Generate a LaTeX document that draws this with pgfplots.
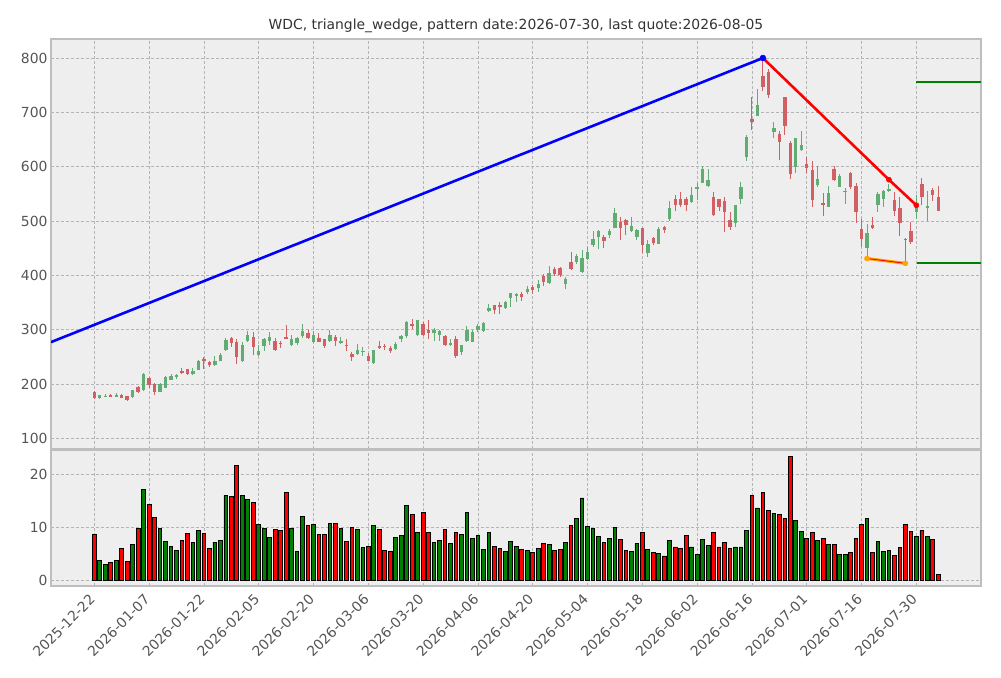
\documentclass[border=0pt]{standalone}
\usepackage{fontspec}
\setmainfont{DejaVu Sans}
\usepackage{pgfplots}
\usepackage{pgfplotstable}
\pgfplotsset{compat=1.18}
\definecolor{bgc}{RGB}{238,238,238}
\definecolor{framec}{RGB}{190,190,190}
\definecolor{gridc}{RGB}{180,180,180}
\definecolor{txtc}{RGB}{85,85,85}
\definecolor{cup}{RGB}{96,172,114}
\definecolor{cdn}{RGB}{208,96,100}
\definecolor{vup}{RGB}{0,128,0}
\definecolor{vdn}{RGB}{255,0,0}
\definecolor{orng}{RGB}{255,165,0}

\pgfplotstableread{
i o h l c v
0 186 187 172 175 8.7
1 174 180 173 179 3.8
2 177 181 176 178 3.0
3 179 181 176 177 3.4
4 176 183 176 180 3.8
5 180 182 174 175 6.0
6 177 178 169 171 3.6
7 176 189 175 188 6.8
8 194 196 184 185 9.8
9 188 221 187 219 17.3
10 211 213 193 199 14.4
11 200 201 180 185 11.9
12 186 201 185 200 9.8
13 193 214 192 212 7.4
14 208 218 207 214 6.4
15 212 218 210 216 5.7
16 224 230 219 220 7.6
17 228 228 216 218 8.9
18 218 230 217 224 7.2
19 226 245 225 242 9.5
20 246 249 228 242 8.9
21 241 243 231 234 6.0
22 234 251 233 242 7.2
23 243 257 242 254 7.6
24 262 284 260 281 16.1
25 285 286 268 276 15.9
26 278 283 237 249 21.8
27 242 277 240 272 16.1
28 279 298 277 291 15.4
29 286 295 254 268 14.8
30 254 271 252 260 10.6
31 269 284 260 282 9.8
32 279 295 272 286 8.1
33 280 284 261 262 9.7
34 276 280 267 273 9.5
35 286 308 282 283 16.7
36 272 290 270 283 9.8
37 275 286 272 284 5.5
38 288 310 285 298 12.1
39 294 299 283 285 10.4
40 277 298 276 290 10.6
41 285 294 277 278 8.7
42 282 283 267 270 8.7
43 279 299 278 291 10.8
44 286 290 270 280 10.8
45 275 286 273 280 9.8
46 272 283 260 271 7.4
47 256 259 243 249 10.0
48 256 273 254 263 9.7
49 259 268 252 261 6.2
50 252 257 242 243 6.4
51 238 262 237 262 10.4
52 270 280 264 266 9.7
53 270 274 262 269 5.7
54 266 269 257 260 5.5
55 264 277 263 274 8.1
56 282 290 277 288 8.5
57 288 316 285 314 14.2
58 311 320 302 306 12.5
59 291 318 289 317 9.1
60 311 314 289 291 12.9
61 300 317 282 294 9.1
62 294 303 279 300 7.2
63 291 300 279 297 7.6
64 288 291 270 272 9.7
65 273 282 269 275 7.0
66 282 288 248 251 9.1
67 259 272 253 271 8.7
68 279 306 278 299 12.9
69 277 299 277 296 7.9
70 299 311 296 306 8.5
71 298 314 296 312 5.8
72 335 348 332 340 9.1
73 345 346 328 337 6.4
74 346 351 328 342 6.0
75 339 352 338 351 5.5
76 358 368 341 367 7.4
77 362 367 351 365 6.4
78 365 369 352 361 5.8
79 370 381 365 374 5.7
80 378 382 365 373 5.3
81 376 391 370 384 6.0
82 399 402 381 388 7.0
83 385 417 384 404 6.8
84 412 415 399 402 5.7
85 413 415 396 401 5.9
86 384 396 375 393 7.2
87 424 442 410 411 10.4
88 425 439 421 435 11.7
89 406 447 404 431 15.6
90 430 453 428 443 10.2
91 455 481 453 466 9.8
92 470 484 449 482 8.3
93 471 475 451 463 7.2
94 475 485 469 481 7.9
95 488 524 487 515 10.0
96 498 508 465 487 7.7
97 502 504 474 492 5.7
98 482 508 479 490 5.5
99 470 486 465 483 7.0
100 487 487 441 456 9.1
101 441 465 434 457 5.9
102 469 471 455 460 5.3
103 457 489 457 486 5.1
104 489 490 478 484 4.6
105 503 536 500 524 7.6
106 540 547 519 530 6.3
107 541 554 526 529 6.1
108 541 545 518 529 8.4
109 535 563 533 547 6.3
110 559 570 539 563 4.8
111 570 602 569 595 7.8
112 565 595 563 576 6.5
113 545 554 510 511 9.1
114 540 540 519 526 6.3
115 536 545 480 516 7.2
116 502 516 483 489 6.1
117 496 530 489 529 6.3
118 540 572 532 563 6.3
119 618 659 611 654 9.5
120 688 729 667 682 16.0
121 694 743 693 713 13.7
122 766 796 739 746 16.7
123 774 779 727 732 13.3
124 664 683 653 671 12.7
125 661 666 613 645 12.4
126 729 729 659 675 11.8
127 643 648 578 586 23.5
128 599 653 589 652 11.4
129 631 666 629 639 9.3
130 604 617 589 597 8.0
131 594 610 525 538 9.0
132 566 601 563 578 7.6
133 533 551 510 531 8.0
134 526 564 525 551 6.8
135 596 602 573 576 6.8
136 562 586 562 583 4.8
137 553 560 532 556 4.8
138 588 590 558 562 5.3
139 564 570 497 516 8.0
140 486 504 452 466 10.6
141 451 494 431 477 11.7
142 492 507 485 487 5.3
143 529 553 516 550 7.4
144 541 557 526 556 5.5
145 555 569 553 559 5.7
146 538 553 510 519 4.7
147 523 544 472 497 6.2
148 467 468 422 465 10.6
149 481 499 457 462 9.3
150 516 547 503 532 8.3
151 568 579 529 544 9.5
152 525 556 500 527 8.3
153 557 560 537 548 7.7
154 545 565 518 518 1.1
}\data

\pgfplotsset{
  base/.style={
    scale only axis, width=930bp, anchor=south west,
    xmin=-7.9, xmax=161.8,
    axis background/.style={fill=bgc},
    axis line style={draw=framec, line width=1.6bp},
    grid=major,
    major grid style={draw=gridc, dash pattern=on 3bp off 2bp, line width=0.7bp},
    major tick length=0pt,
    tick style={draw=none},
    ticklabel style={font=\fontsize{13.9bp}{16bp}\selectfont, text=txtc},
    xtick={0,10,...,150},
    /pgf/number format/assume math mode=true,
  },
  wick/.style={draw=none, mark=none, forget plot,
    error bars/.cd, y dir=both, y explicit, error mark=none,
    error bar style={line width=1bp, draw=#1}},
  body/.style={draw=none, mark=none, forget plot,
    error bars/.cd, y dir=both, y explicit, error mark=none,
    error bar style={line width=3.4bp, draw=#1, line cap=butt}},
}

\begin{document}
\begin{tikzpicture}
\useasboundingbox (0,0) rectangle (1001bp,678bp);

\begin{axis}[base, at={(51bp,229bp)}, height=410bp,
  ymin=80.3, ymax=835, ytick={100,200,...,800}, xticklabel={}]
  % wicks
  \addplot[wick=cup] table[x=i, y expr={(\thisrow{h}+\thisrow{l})/2},
    y error expr={(\thisrow{h}-\thisrow{l})/2},
    restrict expr to domain={\thisrow{c}-\thisrow{o}}{0:10000}] {\data};
  \addplot[wick=cdn] table[x=i, y expr={(\thisrow{h}+\thisrow{l})/2},
    y error expr={(\thisrow{h}-\thisrow{l})/2},
    restrict expr to domain={\thisrow{c}-\thisrow{o}}{-10000:-0.001}] {\data};
  % bodies
  \addplot[body=cup] table[x=i, y expr={(\thisrow{o}+\thisrow{c})/2},
    y error expr={max(abs(\thisrow{c}-\thisrow{o})/2,0.8)},
    restrict expr to domain={\thisrow{c}-\thisrow{o}}{0:10000}] {\data};
  \addplot[body=cdn] table[x=i, y expr={(\thisrow{o}+\thisrow{c})/2},
    y error expr={max(abs(\thisrow{c}-\thisrow{o})/2,0.8)},
    restrict expr to domain={\thisrow{c}-\thisrow{o}}{-10000:-0.001}] {\data};
  % pattern lines
  \addplot[blue, line width=2.6bp] coordinates {(-7.9,277) (122,800)};
  \addplot[red, line width=2.6bp] coordinates {(122,800) (145,576) (150,529)};
  \addplot[only marks, mark=*, mark size=2.6bp, red] coordinates {(145,576) (150,529)};
  \addplot[only marks, mark=*, mark size=3bp, blue] coordinates {(122,800)};
  \addplot[orng, line width=3bp] coordinates {(141,431) (148,422)};
  \addplot[red, line width=0.9bp] coordinates {(141,431) (148,422)};
  \addplot[only marks, mark=*, mark size=2.6bp, orng] coordinates {(141,431) (148,422)};
  \addplot[vup, line width=1.6bp] coordinates {(150,755.5) (161.8,755.5)};
  \addplot[vup, line width=1.6bp] coordinates {(150.2,422.5) (161.8,422.5)};
\end{axis}

\begin{axis}[base, at={(51bp,92bp)}, height=136bp,
  ymin=-1.1, ymax=24.7, ytick={0,10,20},
  xticklabels={2025-12-22,2026-01-07,2026-01-22,2026-02-05,2026-02-20,2026-03-06,2026-03-20,2026-04-06,2026-04-20,2026-05-04,2026-05-18,2026-06-02,2026-06-16,2026-07-01,2026-07-16,2026-07-30},
  xticklabel style={rotate=45, anchor=north east, inner sep=2bp, xshift=-7bp, yshift=1bp}]
  \addplot[ybar, bar width=0.68, bar shift=0pt, fill=vup, draw=black, line width=0.9bp]
    table[x=i, y=v, restrict expr to domain={\thisrow{c}-\thisrow{o}}{0:10000}] {\data};
  \addplot[ybar, bar width=0.68, bar shift=0pt, fill=vdn, draw=black, line width=0.9bp]
    table[x=i, y=v, restrict expr to domain={\thisrow{c}-\thisrow{o}}{-10000:-0.001}] {\data};
\end{axis}

\node[font=\fontsize{13.9bp}{16bp}\selectfont, text=black!80] at (516bp,652bp)
  {WDC, triangle\_wedge, pattern date:2026-07-30, last quote:2026-08-05};
\end{tikzpicture}
\end{document}
